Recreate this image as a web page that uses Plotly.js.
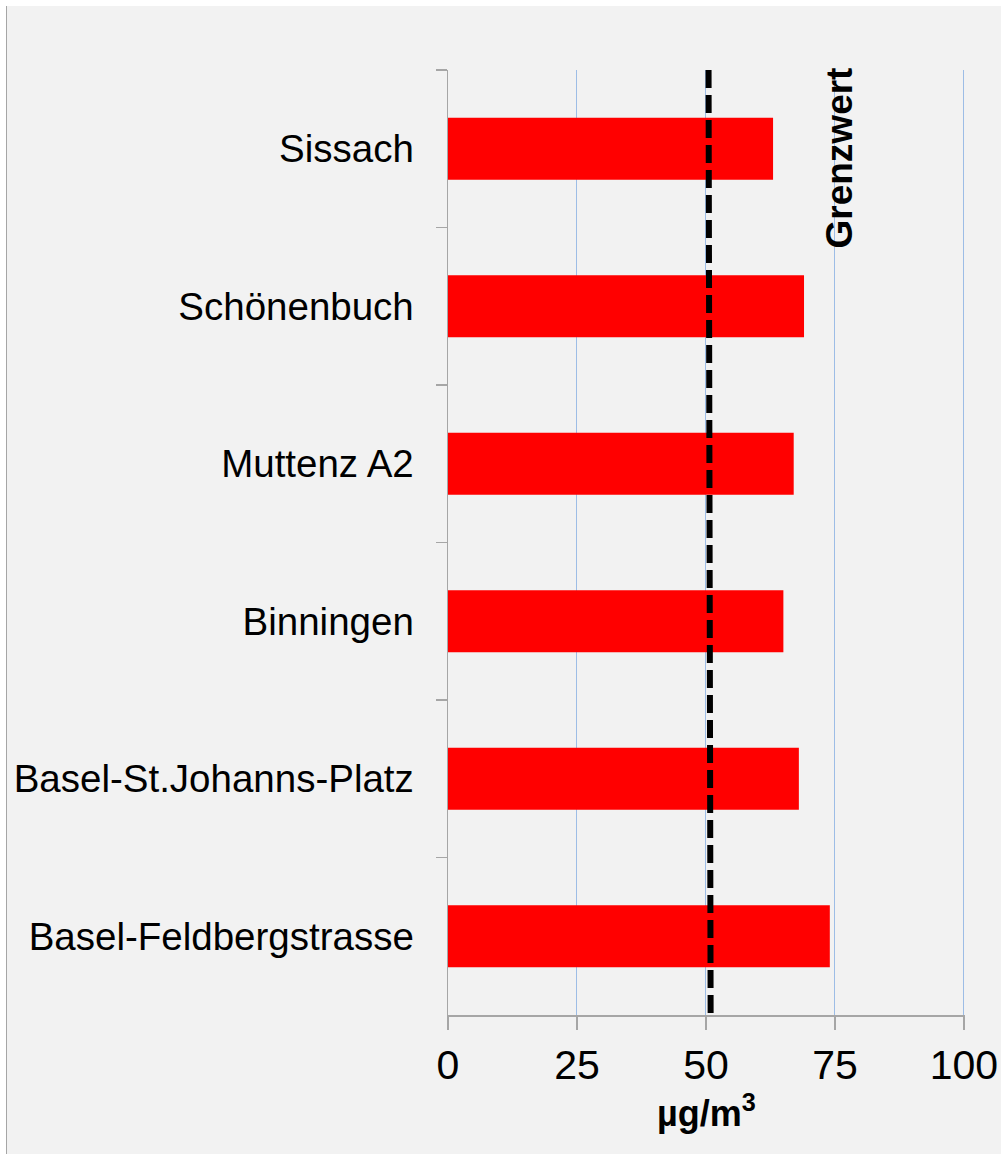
<!DOCTYPE html>
<html>
<head>
<meta charset="utf-8">
<script src="https://cdn.plot.ly/plotly-3.0.1.min.js"></script>
<style>
  html, body { margin: 0; padding: 0; background: #ffffff; }
  #wrap { position: absolute; left: 6px; top: 6px; border-left: 1px solid #a6a6a6; }
  #chart { width: 994px; height: 1148px; }
</style>
</head>
<body>
<div id="wrap"><div id="chart"></div></div>
<script>
// Data
const stations = ['Sissach', 'Schönenbuch', 'Muttenz A2', 'Binningen', 'Basel-St.Johanns-Platz', 'Basel-Feldbergstrasse'];
const values = [63, 69, 67, 65, 68, 74];
const limitValue = [50.5, 50.9];   // Grenzwert line (top, bottom)
const limitLabel = 'Grenzwert';
const xTicks = [0, 25, 50, 75, 100];
const unitLabel = 'µg/m<sup>3</sup>';

const FONT = 'Liberation Sans, Arial, sans-serif';

const traces = [{
  type: 'bar',
  orientation: 'h',
  y: stations,
  x: values,
  marker: { color: '#ff0000' },
  hoverinfo: 'skip'
}];

const layout = {
  width: 994,
  height: 1148,
  margin: { l: 441, r: 36, t: 64, b: 139 },
  paper_bgcolor: '#f2f2f2',
  plot_bgcolor: '#f2f2f2',
  showlegend: false,
  bargap: 0.606,
  font: { family: FONT, color: '#000000' },
  xaxis: {
    range: [0, 100.2],
    tickvals: xTicks,
    ticktext: xTicks.map(String),
    showgrid: true,
    gridcolor: '#9dbde6',
    gridwidth: 1,
    zeroline: false,
    showline: true,
    linecolor: '#a6a6a6',
    linewidth: 1.5,
    ticks: 'outside',
    ticklen: 13,
    tickwidth: 1.5,
    tickcolor: '#a6a6a6',
    tickfont: { family: FONT, size: 41, color: '#000000' },
    title: { text: unitLabel, font: { family: FONT, size: 36, weight: 'bold', color: '#000000' }, standoff: 0 }
  },
  yaxis: {
    type: 'category',
    categoryorder: 'array',
    categoryarray: stations,
    range: [5.5, -0.5],
    showgrid: false,
    zeroline: false,
    showline: true,
    linecolor: '#a6a6a6',
    linewidth: 1.5,
    ticks: 'outside',
    tickson: 'boundaries',
    ticklen: 11,
    tickwidth: 1.5,
    tickcolor: '#a6a6a6',
    ticklabelstandoff: 25,
    tickfont: { family: FONT, size: 38.5, color: '#000000' }
  },
  shapes: [{
    type: 'line',
    layer: 'above',
    xref: 'x', yref: 'paper',
    x0: limitValue[0], x1: limitValue[1],
    y0: 1, y1: 0,
    line: { color: '#000000', width: 6, dash: '18px,7px' }
  }],
  annotations: [{
    text: '<b>' + limitLabel + '</b>',
    xref: 'x', yref: 'paper',
    x: 75.9, y: 0.907,
    xanchor: 'center', yanchor: 'middle',
    textangle: -90,
    showarrow: false,
    font: { family: FONT, size: 37, color: '#000000' }
  }]
};

Plotly.newPlot('chart', traces, layout, { displayModeBar: false, staticPlot: true });
</script>
</body>
</html>
